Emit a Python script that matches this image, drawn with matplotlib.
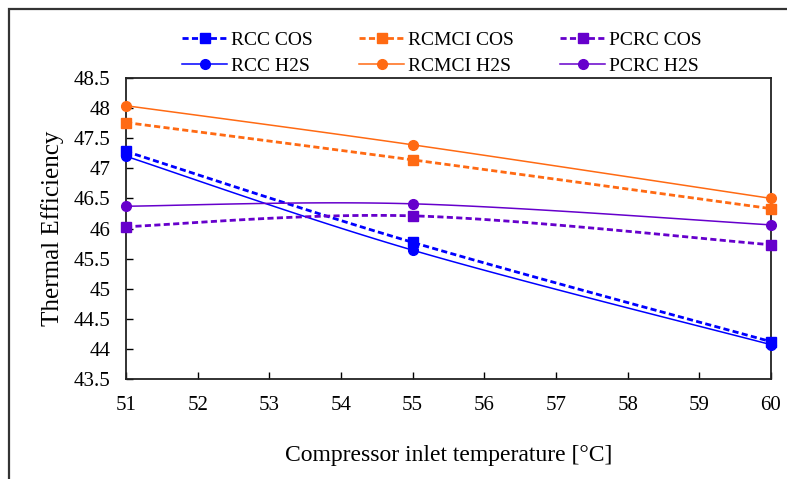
import numpy as np
import matplotlib
matplotlib.use("Agg")
import matplotlib.pyplot as plt
from matplotlib.lines import Line2D
from matplotlib.patches import Rectangle

plt.rcParams['font.family'] = ['Liberation Serif', 'DejaVu Serif']

# Compressor inlet temperature [°C]
temps = [51, 55, 60]

rcc_cos = [47.28, 45.77, 44.12]
rcmci_cos = [47.76, 47.14, 46.33]
pcrc_cos = [46.03, 46.21, 45.73]
rcc_h2s = [47.20, 45.64, 44.07]
rcmci_h2s = [48.04, 47.39, 46.50]
pcrc_h2s = [46.37, 46.41, 46.06]

x_ticks = [51, 52, 53, 54, 55, 56, 57, 58, 59, 60]
y_ticks = [43.5, 44, 44.5, 45, 45.5, 46, 46.5, 47, 47.5, 48, 48.5]

BLUE = '#0000FF'
ORANGE = '#FF6A13'
PURPLE = '#6600CC'
DASH = (2.2, 1.2)


def smooth_path(xs, ys, n=40):
    """Smoothed path through the points (Bezier segments, Catmull-Rom tangents)."""
    p = np.column_stack([xs, ys]).astype(float)
    ext = np.vstack([p[0], p, p[-1]])
    out = []
    for i in range(len(p) - 1):
        p0, p1, p2, p3 = ext[i], ext[i + 1], ext[i + 2], ext[i + 3]
        c1 = p1 + (p2 - p0) / 6.0
        c2 = p2 - (p3 - p1) / 6.0
        t = np.linspace(0, 1, n)[:, None]
        seg = ((1 - t) ** 3) * p1 + 3 * ((1 - t) ** 2) * t * c1 + 3 * (1 - t) * t ** 2 * c2 + t ** 3 * p2
        out.append(seg if i == 0 else seg[1:])
    seg = np.vstack(out)
    return seg[:, 0], seg[:, 1]


fig = plt.figure(figsize=(7.87, 4.79), dpi=100)
ax = fig.add_axes([126 / 787, 1 - 379 / 479, (771 - 126) / 787, (379 - 78) / 479])

series = [
    ("RCC COS", rcc_cos, BLUE, '--', 's', 2.0),
    ("RCC H2S", rcc_h2s, BLUE, '-', 'o', 1.1),
    ("RCMCI COS", rcmci_cos, ORANGE, '--', 's', 2.0),
    ("RCMCI H2S", rcmci_h2s, ORANGE, '-', 'o', 1.1),
    ("PCRC COS", pcrc_cos, PURPLE, '--', 's', 2.0),
    ("PCRC H2S", pcrc_h2s, PURPLE, '-', 'o', 1.1),
]

handles = []
for label, vals, color, ls, mk, lw in series:
    sx, sy = smooth_path(temps, vals)
    style = dict(dashes=DASH) if ls == '--' else {}
    ax.plot(sx, sy, color=color, linestyle=ls, linewidth=lw, clip_on=False, zorder=3, **style)
    ax.plot(temps, vals, linestyle='none', marker=mk, markersize=7, color=color,
            clip_on=False, zorder=4)
    handles.append(Line2D([], [], color=color, linestyle=ls, linewidth=lw, marker=mk,
                          markersize=7, label=label, **style))

ax.set_xlim(51, 60)
ax.set_ylim(43.5, 48.5)
ax.set_xticks(x_ticks)
ax.set_yticks(y_ticks)
ax.set_yticklabels([f"{v:g}" for v in y_ticks])
ax.tick_params(direction='in', length=5, width=1, labelsize=15, colors='black')
ax.tick_params(axis='x', pad=12)
ax.tick_params(axis='y', pad=11)
for s in ax.spines.values():
    s.set_linewidth(1.3)
    s.set_color('#222222')

ax.set_xlabel("Compressor inlet temperature [°C]", fontsize=17, labelpad=22)
ax.set_ylabel("Thermal Efficiency", fontsize=18, labelpad=7)

fig.legend(handles=handles, ncol=3, loc='center', bbox_to_anchor=(442 / 787, 1 - 53 / 479),
           frameon=False, fontsize=14, handlelength=2.3, columnspacing=2.4,
           labelspacing=0.42, handletextpad=0.2)

fig.patches.append(Rectangle((9 / 787, -0.05), 1.0, 1 - 9 / 479 + 0.05,
                             transform=fig.transFigure, fill=False,
                             edgecolor='#333333', linewidth=1.6))

fig.savefig("out.png", dpi=100)
